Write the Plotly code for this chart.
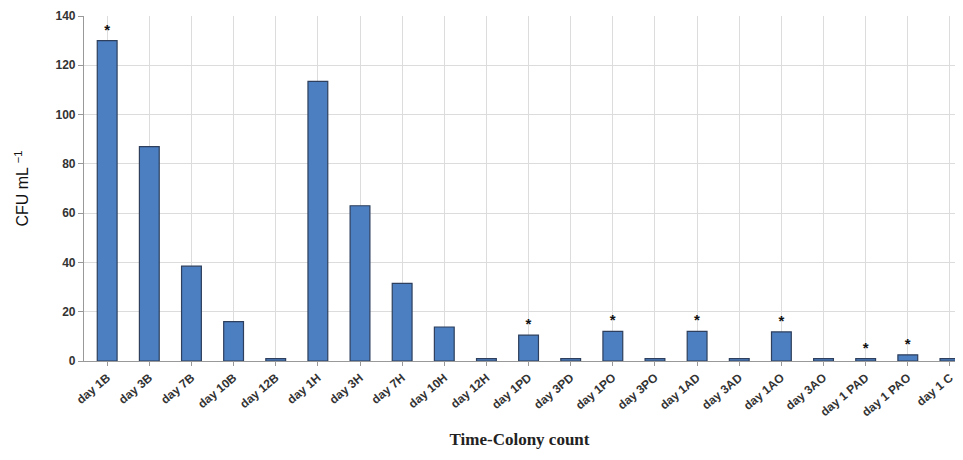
import plotly.graph_objects as go

categories = ["day 1B", "day 3B", "day 7B", "day 10B", "day 12B",
              "day 1H", "day 3H", "day 7H", "day 10H", "day 12H",
              "day 1PD", "day 3PD", "day 1PO", "day 3PO", "day 1AD",
              "day 3AD", "day 1AO", "day 3AO", "day 1 PAD", "day 1 PAO", "day 1 C"]
cfu = [130, 87, 38.5, 16, 1,
       113.5, 63, 31.5, 13.8, 1,
       10.5, 1, 12, 1, 12,
       1, 11.8, 1, 1, 2.5, 1]
significant = [True, False, False, False, False,
               False, False, False, False, False,
               True, False, True, False, True,
               False, True, False, True, True, False]

y_ticks = [0, 20, 40, 60, 80, 100, 120, 140]

fig = go.Figure()
fig.add_trace(go.Bar(
    x=list(range(len(categories))),
    y=cfu,
    width=0.47,
    marker=dict(color="#4b7fc2", line=dict(color="#2d3f5c", width=1.2)),
    text=["*" if s else "" for s in significant],
    textposition="outside",
    textfont=dict(size=15, color="#111", family="Liberation Sans", weight="bold"),
    cliponaxis=False,
))

fig.update_layout(
    width=947, height=444,
    margin=dict(l=76, r=0, t=8, b=91),
    plot_bgcolor="white", paper_bgcolor="white",
    showlegend=False,
    font=dict(family="Liberation Sans, Arial, sans-serif", color="#333"),
    xaxis=dict(
        range=[-0.55, 20.12],
        automargin=False,
        tickmode="array",
        tickvals=list(range(len(categories))),
        ticktext=categories,
        tickangle=-40,
        ticklabeloverflow="allow",
        tickfont=dict(size=12, color="#333", weight="bold"),
        showgrid=True, gridcolor="#dcdcdc", gridwidth=1,
        showline=True, linecolor="#999", linewidth=1.2,
        ticks="outside", ticklen=4, tickcolor="#999",
        zeroline=False,
        title=dict(text="<b>Time-Colony count</b>",
                   font=dict(family="Liberation Serif, Times New Roman, serif", size=17, color="#222"),
                   standoff=14),
    ),
    yaxis=dict(
        range=[0, 140],
        automargin=False,
        tickmode="array",
        tickvals=y_ticks,
        tickfont=dict(size=12, color="#333", weight="bold"),
        showgrid=True, gridcolor="#dcdcdc", gridwidth=1,
        showline=True, linecolor="#999", linewidth=1.2,
        ticks="outside", ticklen=5, tickcolor="#999",
        zeroline=False,
        title=dict(text="CFU mL <sup>−1</sup>",
                   font=dict(size=16, color="#111"),
                   standoff=22),
    ),
)

fig.write_html("out.html")
